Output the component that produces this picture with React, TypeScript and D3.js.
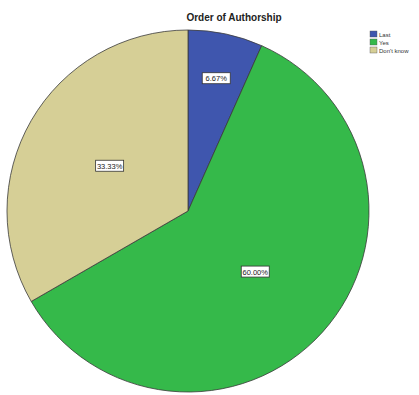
import React from "react";
import * as d3 from "d3";

const categories = ["Last", "Yes", "Don't know"];
const values = [6.67, 60.0, 33.33];
const colors = ["#3F56AE", "#35B94A", "#D6CF96"];
const title = "Order of Authorship";

export default function App() {
  const W = 419, H = 395;
  const cx = 188, cy = 211, r = 181;
  const pie = d3.pie<number>().sort(null).value((d) => d)(values);
  const arc = d3.arc<d3.PieArcDatum<number>>().innerRadius(0).outerRadius(r);
  return (
    <svg width={W} height={H} style={{ position: "absolute", left: 0, top: 0, background: "#fff" }}>
      <text x={234} y={21} textAnchor="middle" fontFamily="Liberation Sans, Arial" fontSize={10} fontWeight="bold" fill="#222">{title}</text>
      <g transform={`translate(${cx},${cy})`}>
        {pie.map((p, i) => (
          <path key={i} d={arc(p) || ""} fill={colors[i]} stroke="#3a3a3a" strokeWidth={0.8} />
        ))}
        {pie.map((p, i) => {
          const mid = (p.startAngle + p.endAngle) / 2;
          const frac = p.endAngle - p.startAngle < 0.6 ? 0.75 : 0.5;
          const lx = Math.sin(mid) * r * frac;
          const ly = -Math.cos(mid) * r * frac;
          const txt = values[i].toFixed(2) + "%";
          return (
            <g key={"l" + i} transform={`translate(${lx},${ly})`}>
              <rect x={-14} y={-5.5} width={28} height={11} fill="#fff" stroke="#333" strokeWidth={0.8} />
              <text x={0} y={3} textAnchor="middle" fontFamily="Liberation Sans, Arial" fontSize={7.5} fill="#222">{txt}</text>
            </g>
          );
        })}
      </g>
      {categories.map((c, i) => (
        <g key={"lg" + i} transform={`translate(370,${31 + i * 8})`}>
          <rect x={0} y={0} width={7} height={6} fill={colors[i]} stroke="#555" strokeWidth={0.4} />
          <text x={9} y={5.5} fontFamily="Liberation Sans, Arial" fontSize={6} fill="#333">{c}</text>
        </g>
      ))}
    </svg>
  );
}
